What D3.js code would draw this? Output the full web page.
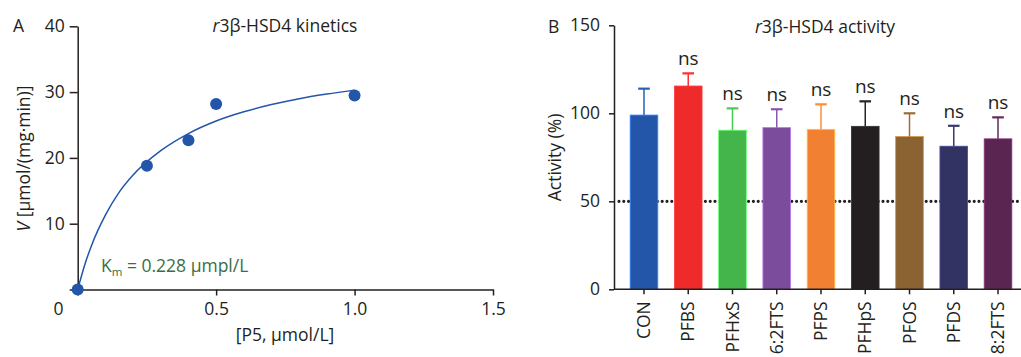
<!DOCTYPE html>
<html>
<head>
<meta charset="utf-8">
<script src="https://cdn.jsdelivr.net/npm/d3@7"></script>
<style>
  body { margin: 0; background: #fff; }
  svg { display: block; font-family: "Open Sans", sans-serif; }
  .axis path, .axis line { stroke: #231f20; stroke-width: 1.5; }
  .axis text { font-size: 17.5px; fill: #231f20; font-family: "Open Sans", sans-serif; }
</style>
</head>
<body>
<div id="chart"></div>
<script>
// ---- panel A data: kinetics ----
const substrate = [0, 0.25, 0.4, 0.5, 1.0];
const velocity = [0, 18.8, 22.7, 28.2, 29.5];
// fitted curve
const fitX = [0, 0.025, 0.05, 0.1, 0.15, 0.2, 0.3, 0.4, 0.5, 0.6, 0.7, 0.8, 0.9, 1.0];
const fitY = [0, 3.7, 6.7, 11.3, 14.8, 17.4, 21.1, 23.7, 25.6, 27.0, 28.1, 29.0, 29.7, 30.3];
const xTicksA = [0.5, 1.0, 1.5];
const yTicksA = [10, 20, 30, 40];

// ---- panel B data: activity ----
const compounds = ["CON", "PFBS", "PFHxS", "6:2FTS", "PFPS", "PFHpS", "PFOS", "PFDS", "8:2FTS"];
const activity = [99, 115.5, 90.4, 91.9, 90.9, 92.6, 86.8, 81.3, 85.5];
const activityErr = [15, 7.2, 12.4, 10.4, 14.2, 14.2, 13.2, 11.6, 12.2];
const signif = ["", "ns", "ns", "ns", "ns", "ns", "ns", "ns", "ns"];
const barColors = ["#2356a8", "#ee2a2a", "#43b54a", "#7b4c9c", "#f28033", "#231f20", "#8b6232", "#323263", "#5b2552"];
const yTicksB = [0, 50, 100, 150];

const width = 1021, height = 357;
const ink = "#231f20";

const svg = d3.select("#chart").append("svg")
    .attr("width", width)
    .attr("height", height);

// ================= panel A =================
const xA = d3.scaleLinear().domain([0, 1.5]).range([77.7, 493]);
const yA = d3.scaleLinear().domain([0, 40]).range([289.5, 26.3]);

svg.append("g")
    .attr("class", "axis")
    .attr("transform", `translate(0,${yA(0)})`)
    .call(d3.axisBottom(xA).tickValues([0].concat(xTicksA))
        .tickFormat(d => d === 0 ? "" : d3.format(".1f")(d))
        .tickSize(6).tickPadding(7).tickSizeOuter(0));

svg.append("g")
    .attr("class", "axis")
    .attr("transform", `translate(${xA(0)},0)`)
    .call(d3.axisLeft(yA).tickValues([0].concat(yTicksA))
        .tickFormat(d => d === 0 ? "" : d)
        .tickSize(8).tickPadding(5).tickSizeOuter(0));

// origin label sits to the lower left
svg.append("text")
    .attr("x", 58.5).attr("y", 315)
    .attr("text-anchor", "middle")
    .attr("font-size", 17.5).attr("fill", ink)
    .text("0");

let fit = d3.line()
    .x((d, i) => xA(fitX[i]))
    .y(d => yA(d))
    .curve(d3.curveMonotoneX);

svg.append("path")
    .datum(fitY)
    .attr("d", fit)
    .attr("fill", "none")
    .attr("stroke", "#2356a8")
    .attr("stroke-width", 1.5);

svg.selectAll(".pt")
    .data(velocity)
    .join("circle")
    .attr("class", "pt")
    .attr("cx", (d, i) => xA(substrate[i]))
    .attr("cy", d => yA(d))
    .attr("r", 6)
    .attr("fill", "#2356a8");

// Km annotation
const km = svg.append("text")
    .attr("x", 101).attr("y", 272)
    .attr("font-size", 17.5).attr("fill", "#3b6e43");
km.append("tspan").text("K");
km.append("tspan").attr("font-size", 11.5).attr("dy", 4).text("m");
km.append("tspan").attr("dy", -4).text(" = 0.228 µmpl/L");

// titles and labels
svg.append("text").attr("x", 13).attr("y", 32)
    .attr("font-size", 17.5).attr("fill", ink).text("A");

const tA = svg.append("text").attr("x", 285).attr("y", 32)
    .attr("text-anchor", "middle").attr("font-size", 17.5).attr("fill", ink);
tA.append("tspan").attr("font-style", "italic").text("r");
tA.append("tspan").text("3β-HSD4 kinetics");

svg.append("text").attr("x", 285).attr("y", 341)
    .attr("text-anchor", "middle").attr("font-size", 17.5).attr("fill", ink)
    .text("[P5, µmol/L]");

const yLabA = svg.append("text")
    .attr("transform", "translate(29.5,158.5) rotate(-90)")
    .attr("text-anchor", "middle").attr("font-size", 17.5).attr("fill", ink);
yLabA.append("tspan").attr("font-style", "italic").text("V");
yLabA.append("tspan").text(" [µmol/(mg·min)]");

// ================= panel B =================
const xB = d3.scaleBand().domain(compounds)
    .range([614, 1028]).paddingInner(0.375).paddingOuter(0.365);
const yB = d3.scaleLinear().domain([0, 150]).range([289.3, 25.3]);

// 50% reference line, behind the bars
svg.append("line")
    .attr("x1", 619).attr("x2", width)
    .attr("y1", yB(50)).attr("y2", yB(50))
    .attr("stroke", ink)
    .attr("stroke-width", 3.2)
    .attr("stroke-linecap", "round")
    .attr("stroke-dasharray", "0 4.8");

svg.selectAll(".bar")
    .data(activity)
    .join("rect")
    .attr("class", "bar")
    .attr("x", (d, i) => xB(compounds[i]))
    .attr("y", d => yB(d))
    .attr("width", xB.bandwidth())
    .attr("height", d => yB(0) - yB(d))
    .attr("fill", (d, i) => barColors[i])
    .attr("stroke", (d, i) => d3.color(barColors[i]).brighter(1.2))
    .attr("stroke-width", 0.8);

// error bars (upper only)
const err = svg.append("g");
compounds.forEach((c, i) => {
    const cx = xB(c) + xB.bandwidth() / 2;
    const col = d3.color(barColors[i]).brighter(0.3);
    err.append("line")
        .attr("x1", cx).attr("x2", cx)
        .attr("y1", yB(activity[i])).attr("y2", yB(activity[i] + activityErr[i]))
        .attr("stroke", col).attr("stroke-width", 1.5);
    err.append("line")
        .attr("x1", cx - 5.8).attr("x2", cx + 5.8)
        .attr("y1", yB(activity[i] + activityErr[i])).attr("y2", yB(activity[i] + activityErr[i]))
        .attr("stroke", col).attr("stroke-width", 2.2);
    if (signif[i]) {
        svg.append("text")
            .attr("x", cx).attr("y", yB(activity[i] + activityErr[i]) - 8)
            .attr("text-anchor", "middle")
            .attr("font-size", 19).attr("fill", ink)
            .text(signif[i]);
    }
});

svg.append("g")
    .attr("class", "axis")
    .attr("transform", `translate(614,0)`)
    .call(d3.axisLeft(yB).tickValues(yTicksB).tickSize(5).tickPadding(9).tickSizeOuter(0));

const xAxB = svg.append("g")
    .attr("class", "axis")
    .attr("transform", `translate(0,${yB(0)})`)
    .call(d3.axisBottom(xB).tickSize(5).tickSizeOuter(0));
xAxB.select(".domain").attr("d", `M614,0H${width}`);
xAxB.selectAll("text")
    .attr("transform", "rotate(-90)")
    .attr("x", -12).attr("y", 0).attr("dy", "0.35em")
    .style("font-size", "17.5px")
    .attr("text-anchor", "end");

svg.append("text").attr("x", 548).attr("y", 33)
    .attr("font-size", 17.5).attr("fill", ink).text("B");

const tB = svg.append("text").attr("x", 825).attr("y", 33)
    .attr("text-anchor", "middle").attr("font-size", 17.5).attr("fill", ink);
tB.append("tspan").attr("font-style", "italic").text("r");
tB.append("tspan").text("3β-HSD4 activity");

svg.append("text")
    .attr("transform", "translate(561,157.5) rotate(-90)")
    .attr("text-anchor", "middle").attr("font-size", 17.5).attr("fill", ink)
    .text("Activity (%)");
</script>
</body>
</html>
